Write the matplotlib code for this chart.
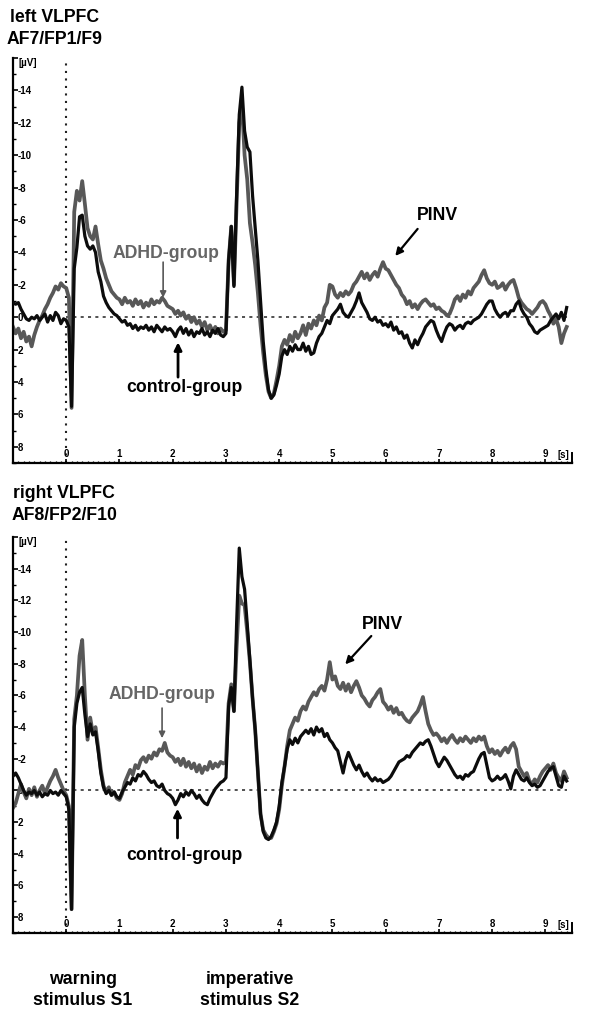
import numpy as np
import matplotlib
matplotlib.use("Agg")
import matplotlib.pyplot as plt
from matplotlib.ticker import FixedLocator, MultipleLocator

plt.rcParams["font.family"] = ["Liberation Sans", "DejaVu Sans"]
plt.rcParams["font.weight"] = "bold"

# sampling grid of the averaged ERP (seconds)
T_START = -1.0
T_STEP = 0.05
N_SAMPLES = 209
time_s = T_START + T_STEP * np.arange(N_SAMPLES)

# left VLPFC (AF7/FP1/F9), µV, one row per second
left_adhd = [
    0.6, 1.0, 0.7, 1.3, 0.9, 1.5, 1.2, 1.8, 1.1, 0.6, 0.2, -0.1, -0.5, -0.8, -1.2, -1.5, -1.9, -1.7, -2.1, -1.9,
    -1.8, -1.2, 5.6, -6.5, -7.8, -7.2, -8.4, -7.0, -5.5, -5.0, -4.8, -5.6, -4.5, -3.5, -3.0, -2.4, -2.0, -1.6, -1.4, -1.2,
    -1.1, -0.8, -1.2, -0.9, -1.0, -0.7, -1.1, -0.8, -1.0, -0.6, -0.9, -0.7, -1.1, -0.8, -1.0, -0.9, -1.2, -1.0, -0.7, -0.6,
    -0.5, -0.2, -0.4, -0.1, -0.3, 0.1, -0.1, 0.3, 0.0, 0.4, 0.2, 0.6, 0.3, 0.8, 0.5, 0.9, 0.6, 1.0, 0.7, 0.9,
    0.8, -3.5, -5.6, -2.0, -7.0, -12.0, -13.2, -10.0, -8.5, -5.8, -4.6, -3.2, -1.5, 0.5, 2.2, 3.6, 4.6, 5.0, 4.7, 3.9,
    3.0, 1.8, 1.4, 1.7, 1.1, 1.5, 0.9, 1.3, 1.0, 0.5, 1.1, 0.4, 0.7, 0.2, 0.5, -0.1, 0.2, -0.6, -0.9, -2.0,
    -1.9, -1.4, -1.2, -1.5, -1.3, -1.6, -1.4, -1.6, -2.0, -2.2, -2.5, -2.8, -2.4, -2.7, -2.3, -2.6, -2.8, -2.5, -3.0, -3.4,
    -3.0, -2.9, -2.6, -2.3, -2.0, -1.8, -1.4, -1.2, -0.8, -1.0, -0.6, -0.8, -0.5, -0.8, -1.0, -1.1, -0.9, -0.7, -0.8, -0.5,
    -0.6, -0.4, -0.3, -0.1, -0.2, -0.6, -1.1, -1.3, -1.0, -1.4, -1.2, -1.6, -1.4, -1.8, -2.0, -2.2, -2.6, -2.9, -2.4, -2.1,
    -2.0, -2.2, -1.8, -1.9, -2.1, -1.7, -2.0, -2.2, -2.3, -1.8, -1.2, -0.9, -0.7, -0.5, -0.4, -0.2, -0.4, -0.6, -0.9, -1.0,
    -0.8, -0.4, -0.1, 0.4, 0.1, 0.6, 1.6, 1.0, 0.6,
]
left_control = [
    -0.9, -0.8, -0.9, -0.5, -0.2, 0.1, 0.2, 0.0, 0.1, -0.1, 0.2, 0.0, -0.2, 0.3, -0.1, 0.2, -0.3, -0.1, 0.4, 0.1,
    0.2, 0.6, 5.5, -3.0, -4.3, -6.2, -6.3, -5.0, -4.4, -4.2, -4.4, -4.0, -2.8, -2.2, -1.3, -0.9, -0.6, -0.4, -0.2, -0.1,
    0.1, 0.3, 0.2, 0.5, 0.4, 0.7, 0.5, 0.8, 0.6, 0.7, 0.5, 0.8, 0.6, 0.9, 0.5, 0.7, 0.9, 0.6, 0.8, 0.7,
    0.9, 1.2, 0.8, 0.6, 1.0, 0.7, 1.1, 0.8, 1.2, 0.9, 1.0, 0.7, 1.1, 0.9, 1.2, 0.8, 1.0, 0.7, 1.1, 1.2,
    1.0, -3.5, -5.6, -1.9, -7.5, -12.5, -14.2, -11.5, -10.5, -10.2, -7.5, -5.5, -3.5, -1.0, 1.5, 3.2, 4.5, 5.0, 4.8, 4.2,
    3.5, 2.4, 2.0, 2.3, 1.8, 2.1, 1.7, 2.0, 2.0, 1.6, 2.1, 1.8, 2.3, 2.2, 1.6, 1.2, 1.0, 0.6, 0.2, 0.4,
    -0.1, -0.3, -0.5, -0.8, -0.3, -0.1, 0.0, -0.3, -0.6, -1.0, -1.5, -0.9, -0.6, -0.3, 0.1, 0.2, 0.0, 0.3, 0.2, 0.5,
    0.4, 0.6, 0.3, 0.8, 0.6, 1.0, 0.9, 1.3, 1.1, 1.6, 1.9, 1.4, 1.7, 1.3, 1.0, 0.6, 0.4, 0.2, 0.3, 0.8,
    1.2, 1.5, 1.0, 0.6, 0.4, 0.5, 0.8, 0.6, 0.5, 0.7, 0.4, 0.3, 0.4, 0.2, 0.1, 0.0, -0.2, -0.5, -0.8, -1.0,
    -1.0, -0.5, -0.2, 0.0, -0.2, -0.3, -0.1, -0.4, -0.4, -0.8, -1.0, -0.5, -0.2, 0.0, 0.4, 0.6, 0.9, 1.0, 0.8, 0.7,
    0.6, 0.5, 0.2, 0.0, -0.2, 0.1, -0.3, 0.2, -0.6,
]

# right VLPFC (AF8/FP2/F10)
right_adhd = [
    1.1, 0.8, 0.2, -0.4, 0.1, 0.5, -0.1, 0.3, -0.2, 0.4, 0.0, -0.3, 0.2, -0.2, -0.6, -0.9, -1.3, -0.8, -0.4, 0.0,
    0.3, 1.0, 7.5, -4.5, -6.0, -8.5, -9.5, -6.0, -3.2, -4.6, -3.6, -4.0, -2.7, -1.3, -0.3, 0.1, -0.2, 0.3, 0.1, 0.5,
    0.6, 0.2, -0.5, -0.9, -1.3, -1.0, -1.6, -1.4, -1.9, -2.1, -1.8, -2.2, -2.0, -2.4, -2.2, -2.6, -2.5, -3.0, -2.4, -2.2,
    -2.1, -1.8, -2.0, -1.6, -2.0, -1.5, -1.8, -1.4, -1.7, -1.2, -1.6, -1.1, -1.5, -1.3, -1.8, -1.4, -1.7, -1.5, -1.8, -1.7,
    -1.8, -5.5, -6.7, -5.0, -9.0, -12.3, -11.8, -11.7, -10.0, -8.1, -5.8, -3.8, -1.2, 1.5, 2.5, 2.8, 3.0, 3.0, 2.6, 2.1,
    1.2, -0.3, -1.5, -2.8, -3.8, -4.2, -4.6, -4.4, -5.0, -5.3, -5.1, -5.6, -5.9, -6.2, -6.0, -6.4, -6.6, -6.3, -7.0, -8.1,
    -7.0, -7.2, -6.6, -6.4, -6.8, -6.3, -6.7, -6.2, -6.6, -6.9, -6.5, -6.0, -5.8, -5.5, -5.3, -5.7, -5.9, -6.2, -6.4, -5.6,
    -5.4, -5.1, -5.3, -4.9, -5.2, -4.8, -4.9, -4.6, -4.4, -4.3, -4.6, -4.8, -5.0, -5.4, -5.9, -5.0, -4.2, -3.8, -3.5, -3.6,
    -3.4, -3.1, -3.3, -3.0, -3.3, -3.5, -3.2, -3.0, -3.3, -3.1, -3.4, -3.2, -3.0, -3.3, -3.1, -3.4, -3.2, -3.4, -2.8, -2.4,
    -2.6, -2.3, -2.5, -2.2, -2.5, -2.7, -2.4, -2.8, -3.0, -2.6, -1.5, -1.2, -0.9, -1.1, -0.6, -0.4, -0.7, -0.5, -0.9, -1.2,
    -1.4, -1.6, -1.3, -1.7, -1.1, -0.8, -0.6, -1.2, -0.8,
]
right_control = [
    -0.9, -1.1, -0.8, -0.4, 0.0, 0.3, 0.1, 0.2, 0.0, 0.3, 0.1, 0.4, 0.2, 0.3, 0.0, 0.2, 0.1, 0.3, 0.0, 0.2,
    0.4, 1.2, 7.5, -4.0, -5.5, -6.2, -6.5, -4.8, -3.4, -4.2, -3.5, -3.7, -2.5, -1.1, -0.2, 0.2, 0.0, 0.3, 0.1, 0.4,
    0.5, 0.1, -0.2, -0.5, -0.4, -0.8, -0.6, -1.0, -0.9, -1.2, -1.0, -0.7, -0.5, -0.6, -0.3, -0.2, -0.4, 0.0, 0.2, 0.3,
    0.5, 0.9, 0.6, 0.2, 0.4, 0.1, 0.3, 0.0, 0.2, 0.5, 0.3, 0.6, 0.8, 0.9, 0.5, 0.2, -0.1, -0.3, -0.5, -0.6,
    -0.8, -5.3, -6.5, -5.0, -10.5, -15.3, -13.5, -12.7, -10.5, -8.2, -5.8, -3.8, -1.2, 1.5, 2.6, 3.0, 3.1, 2.9, 2.5, 2.0,
    1.0, -0.5, -1.5, -2.6, -3.2, -2.9, -3.3, -3.0, -3.4, -3.6, -3.8, -3.6, -3.9, -3.5, -4.0, -3.7, -3.9, -3.4, -3.6, -3.2,
    -3.0, -2.7, -2.5, -1.8, -1.1, -1.9, -2.4, -2.0, -1.6, -1.3, -1.6, -1.2, -0.9, -1.1, -0.8, -0.6, -0.8, -0.6, -0.7, -0.5,
    -0.6, -0.7, -0.9, -1.2, -1.5, -1.8, -1.9, -2.0, -2.2, -2.1, -2.4, -2.6, -2.8, -3.0, -2.9, -3.1, -3.2, -2.8, -2.3, -1.8,
    -1.5, -1.8, -2.1, -1.9, -1.6, -1.3, -1.0, -0.8, -0.9, -0.7, -1.0, -0.9, -1.1, -1.2, -1.6, -2.0, -2.3, -2.4, -1.6, -0.8,
    -0.6, -0.7, -0.9, -0.7, -0.8, -1.0, -0.6, -0.1, -0.9, -1.3, -1.0, -0.7, -0.6, -0.8, -0.5, -0.3, -0.4, -0.2, -0.3, -0.6,
    -0.9, -1.2, -1.4, -1.5, -0.9, -0.3, -0.2, -0.9, -0.6,
]

y_tick_values = [-16, -14, -12, -10, -8, -6, -4, -2, 0, 2, 4, 6, 8]
y_tick_labels = ["", "-14", "-12", "-10", "-8", "-6", "-4", "-2", "0", "2", "4", "6", "8"]
x_tick_values = [0, 1, 2, 3, 4, 5, 6, 7, 8, 9]

ADHD_COLOR = "#585858"
ADHD_TEXT = "#666666"
CONTROL_COLOR = "#0c0c0c"
FS = 12.7

for arr in (left_adhd, left_control, right_adhd, right_control):
    assert len(arr) == N_SAMPLES


def draw_panel(ax, adhd, control, notes):
    ax.axvline(0, color="#222222", lw=1.5, ls=(0, (1, 2.6)), zorder=1)
    ax.hlines(0, 0, time_s[-1], color="#222222", lw=1.1, ls=(0, (2, 2.8)), zorder=1)
    ax.plot(time_s, adhd, color=ADHD_COLOR, lw=2.7, zorder=2, solid_joinstyle="round")
    ax.plot(time_s, control, color=CONTROL_COLOR, lw=2.3, zorder=3, solid_joinstyle="round")

    ax.set_xlim(-1.0, 9.5)
    ax.set_ylim(9, -16)
    for side in ("top", "right"):
        ax.spines[side].set_visible(False)
    ax.spines["left"].set_linewidth(1.6)
    ax.spines["bottom"].set_linewidth(1.6)

    ax.yaxis.set_major_locator(FixedLocator(y_tick_values))
    ax.set_yticklabels(y_tick_labels)
    ax.yaxis.set_minor_locator(MultipleLocator(1))
    ax.xaxis.set_major_locator(FixedLocator(x_tick_values))
    ax.set_xticklabels([str(v) for v in x_tick_values])
    ax.xaxis.set_minor_locator(MultipleLocator(0.1))
    ax.tick_params(axis="y", which="major", direction="in", length=3.5, width=1.2, pad=-3.5, labelsize=7)
    ax.tick_params(axis="y", which="minor", direction="in", length=2, width=1.0)
    ax.tick_params(axis="x", which="major", direction="in", length=3, width=1.2, pad=-3, labelsize=7)
    ax.tick_params(axis="x", which="minor", direction="in", length=1.8, width=0.9)
    plt.setp(ax.get_yticklabels(), ha="left")
    plt.setp(ax.get_xticklabels(), va="bottom")

    ax.text(-0.9, -15.7, "[µV]", fontsize=7, ha="left", va="center")
    ax.text(9.34, 0.008, "[s]", fontsize=7, ha="center", va="bottom",
            transform=ax.get_xaxis_transform())
    ax.axvline(9.5, ymin=0, ymax=0.025, color="black", lw=1.4, clip_on=False)

    (tx, ty), (ax0, ay0, ax1, ay1) = notes["adhd"]
    ax.text(tx, ty, "ADHD-group", color=ADHD_TEXT, fontsize=FS, ha="center", va="center")
    ax.annotate("", xy=(ax1, ay1), xytext=(ax0, ay0),
                arrowprops=dict(arrowstyle="-|>", color=ADHD_COLOR, lw=1.2,
                                mutation_scale=9, shrinkA=0, shrinkB=0))
    (tx, ty), (ax0, ay0, ax1, ay1) = notes["control"]
    ax.text(tx, ty, "control-group", color="black", fontsize=FS, ha="center", va="center")
    ax.annotate("", xy=(ax1, ay1), xytext=(ax0, ay0),
                arrowprops=dict(arrowstyle="-|>", color="black", lw=2.0,
                                mutation_scale=11, shrinkA=0, shrinkB=0))
    (tx, ty), (ax0, ay0, ax1, ay1) = notes["pinv"]
    ax.text(tx, ty, "PINV", color="black", fontsize=FS, ha="center", va="center")
    ax.annotate("", xy=(ax1, ay1), xytext=(ax0, ay0),
                arrowprops=dict(arrowstyle="-|>", color="black", lw=1.6,
                                mutation_scale=11, shrinkA=0, shrinkB=0))


fig = plt.figure(figsize=(6.0, 10.29), dpi=100)
ax_top = fig.add_axes([13 / 600, (1029 - 463) / 1029, 559 / 600, 405 / 1029])
ax_bot = fig.add_axes([13 / 600, (1029 - 933) / 1029, 559 / 600, 396 / 1029])

draw_panel(ax_top, left_adhd, left_control, {
    "adhd": ((1.88, -3.96), (1.82, -3.4, 1.82, -1.2)),
    "control": ((2.22, 4.33), (2.1, 3.7, 2.1, 1.55)),
    "pinv": ((6.97, -6.3), (6.6, -5.45, 6.18, -3.78)),
})
draw_panel(ax_bot, right_adhd, right_control, {
    "adhd": ((1.80, -6.05), (1.80, -5.2, 1.80, -3.3)),
    "control": ((2.22, 4.08), (2.09, 3.0, 2.09, 1.15)),
    "pinv": ((5.94, -10.5), (5.73, -9.75, 5.24, -7.96)),
})

fig.text(55 / 600, 1 - 18 / 1029, "left VLPFC", fontsize=FS, ha="center", va="center")
fig.text(55 / 600, 1 - 40 / 1029, "AF7/FP1/F9", fontsize=FS, ha="center", va="center")
fig.text(64 / 600, 1 - 494 / 1029, "right VLPFC", fontsize=FS, ha="center", va="center")
fig.text(64 / 600, 1 - 515 / 1029, "AF8/FP2/F10", fontsize=FS, ha="center", va="center")
fig.text(83 / 600, 1 - 990 / 1029, "warning\nstimulus S1", fontsize=FS, ha="center",
         va="center", linespacing=1.35)
fig.text(250 / 600, 1 - 990 / 1029, "imperative\nstimulus S2", fontsize=FS, ha="center",
         va="center", linespacing=1.35)

fig.savefig("out.png", dpi=100, facecolor="white")
